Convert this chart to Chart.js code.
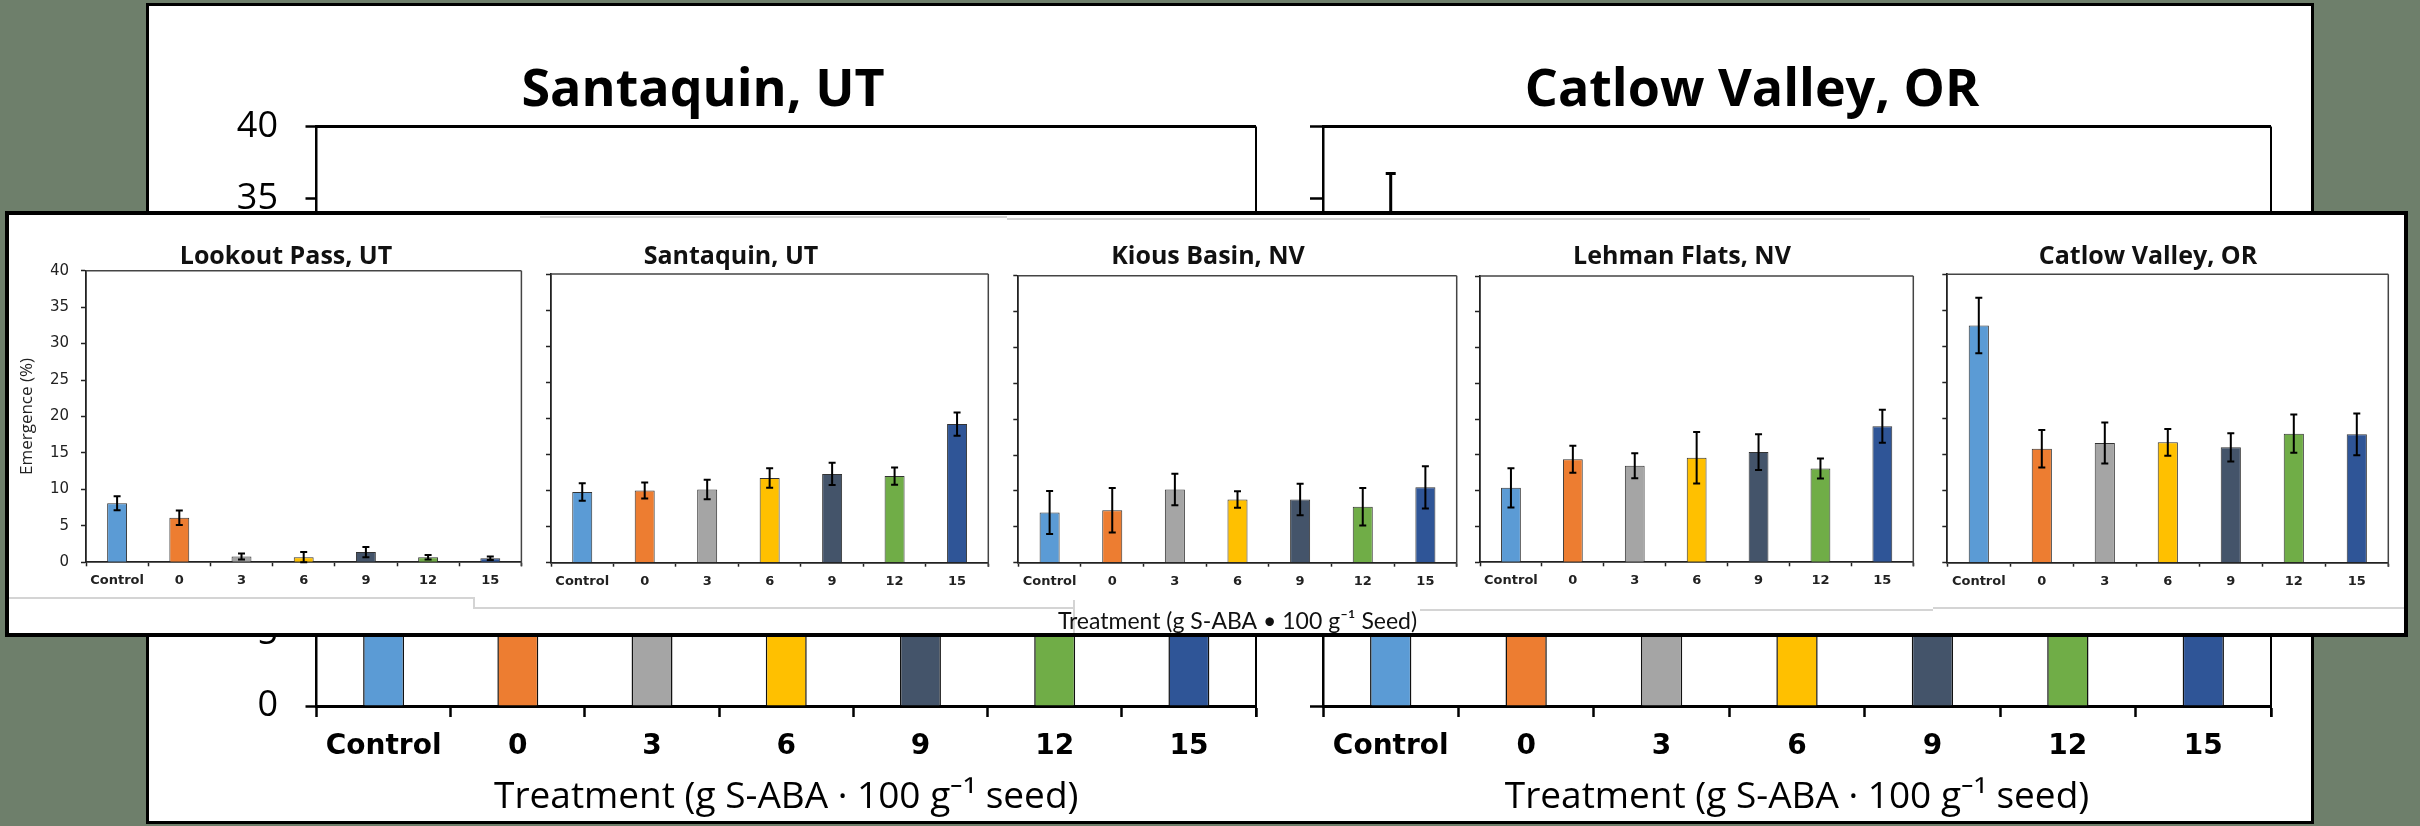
<!DOCTYPE html>
<html>
<head>
<meta charset="utf-8">
<title>Emergence by treatment</title>
<script src="https://cdn.jsdelivr.net/npm/chart.js@4.4.1/dist/chart.umd.min.js"></script>
<style>
  html, body { margin: 0; padding: 0; }
  body { width: 2420px; height: 826px; background: #6e7f6b; position: relative; overflow: hidden; }
  .slide { position: absolute; left: 146px; top: 3px; width: 2168px; height: 821px; background: #fff; border: 3px solid #000; box-sizing: border-box; }
  .inset { position: absolute; left: 5px; top: 211px; width: 2403px; height: 426px; background: #fff; border: 4px solid #000; box-sizing: border-box; z-index: 2; }
  canvas { position: absolute; }
  .big { z-index: 1; }
  .panel { z-index: 4; }
  .seam { position: absolute; background: #d4d4d4; z-index: 3; }
</style>
</head>
<body>
<div class="slide"></div>
<canvas id="bigLeft" class="big"></canvas>
<canvas id="bigRight" class="big"></canvas>
<div class="inset"></div>
<div class="seam" style="left:540px;top:216px;width:467px;height:2px"></div>
<div class="seam" style="left:1007px;top:218px;width:863px;height:2px"></div>
<div class="seam" style="left:9px;top:597px;width:464px;height:2px"></div>
<div class="seam" style="left:473px;top:597px;width:2px;height:11px"></div>
<div class="seam" style="left:473px;top:607px;width:600px;height:2px"></div>
<div class="seam" style="left:1073px;top:600px;width:2px;height:33px"></div>
<div class="seam" style="left:1420px;top:609px;width:513px;height:2px"></div>
<div class="seam" style="left:1933px;top:607px;width:471px;height:2px"></div>
<canvas id="p1" class="panel"></canvas>
<canvas id="p2" class="panel"></canvas>
<canvas id="p3" class="panel"></canvas>
<canvas id="p4" class="panel"></canvas>
<canvas id="p5" class="panel"></canvas>
<script>
// treatments and colours
const treatments = ['Control', '0', '3', '6', '9', '12', '15'];
const treatmentColors = ['#5B9BD5', '#ED7D31', '#A5A5A5', '#FFC000', '#44546A', '#70AD47', '#2F5597'];
const emergenceTicks = [0, 5, 10, 15, 20, 25, 30, 35, 40];

// emergence (%) means and error bars, per site
const lookoutMean = [8.1, 6.1, 0.8, 0.7, 1.4, 0.7, 0.55];
const lookoutErr = [0.95, 1.0, 0.4, 0.7, 0.7, 0.3, 0.25];
const santaquinMean = [9.8, 10.0, 10.15, 11.75, 12.3, 12.0, 19.2];
const santaquinErr = [1.2, 1.1, 1.35, 1.35, 1.55, 1.2, 1.6];
const kiousMean = [7.0, 7.3, 10.2, 8.8, 8.8, 7.8, 10.5];
const kiousErr = [3.0, 3.1, 2.2, 1.15, 2.2, 2.6, 2.95];
const lehmanMean = [10.4, 14.4, 13.5, 14.6, 15.4, 13.1, 19.0];
const lehmanErr = [2.75, 1.9, 1.75, 3.6, 2.5, 1.4, 2.3];
const catlowMean = [32.9, 15.8, 16.6, 16.7, 16.0, 17.9, 17.8];
const catlowErr = [3.85, 2.6, 2.85, 1.85, 1.95, 2.65, 2.9];

const errorBars = {
  id: 'errorBars',
  afterDatasetsDraw(chart, args, opts) {
    const ctx = chart.ctx;
    const y = chart.scales.y;
    const ds = chart.data.datasets[0];
    ctx.save();
    ctx.strokeStyle = '#000';
    ctx.lineWidth = opts.width;
    chart.getDatasetMeta(0).data.forEach((bar, i) => {
      const hi = y.getPixelForValue(ds.data[i] + ds.errors[i]);
      const lo = y.getPixelForValue(ds.data[i] - ds.errors[i]);
      ctx.beginPath();
      ctx.moveTo(bar.x, hi); ctx.lineTo(bar.x, lo);
      ctx.moveTo(bar.x - opts.cap, hi); ctx.lineTo(bar.x + opts.cap, hi);
      ctx.moveTo(bar.x - opts.cap, lo); ctx.lineTo(bar.x + opts.cap, lo);
      ctx.stroke();
    });
    ctx.restore();
  }
};

// top and right edges of the plot box
const frame = {
  id: 'frame',
  afterDraw(chart, args, opts) {
    const ctx = chart.ctx;
    const a = chart.chartArea;
    ctx.save();
    ctx.strokeStyle = opts.color;
    ctx.lineWidth = opts.top;
    ctx.beginPath(); ctx.moveTo(a.left, a.top); ctx.lineTo(a.right, a.top); ctx.stroke();
    ctx.lineWidth = opts.right;
    ctx.beginPath(); ctx.moveTo(a.right, a.top); ctx.lineTo(a.right, a.bottom + opts.extend); ctx.stroke();
    ctx.restore();
  }
};

function place(id, x, y, w, h) {
  const cv = document.getElementById(id);
  cv.width = w; cv.height = h;
  cv.style.left = x + 'px'; cv.style.top = y + 'px';
  return cv;
}

function dataset(means, errs, border, pct) {
  return {
    data: means, errors: errs,
    backgroundColor: treatmentColors,
    borderColor: border.color, borderWidth: border.width,
    barPercentage: pct, categoryPercentage: 1
  };
}

// big slide charts (mostly covered by the inset)
const bigBoxes = [
  { id: 'bigLeft', x: 150, y: 6, w: 1130, h: 814, padR: 24, yW: 166.5, yTick: 11, labels: true, title: 'Santaquin, UT', mean: santaquinMean, err: santaquinErr },
  { id: 'bigRight', x: 1233, y: 6, w: 1057, h: 814, padR: 19, yW: 90, yTick: 13, labels: false, title: 'Catlow Valley, OR', mean: catlowMean, err: catlowErr }
];

bigBoxes.forEach(b => {
  const cv = place(b.id, b.x, b.y, b.w, b.h);
  new Chart(cv, {
    type: 'bar',
    data: { labels: treatments, datasets: [dataset(b.mean, b.err, { color: '#111', width: 1.5 }, 0.305)] },
    options: {
      responsive: false, animation: false, events: [],
      layout: { padding: { left: 0, right: b.padR, top: 0, bottom: 0 } },
      plugins: {
        legend: { display: false },
        tooltip: { enabled: false },
        title: { display: true, text: b.title, color: '#000', font: { family: 'Open Sans', size: 52, weight: 'bold', lineHeight: 1.2 }, padding: { top: 54.3, bottom: 3.8 } },
        errorBars: { width: 3, cap: 5 },
        frame: { color: '#000', top: 3, right: 2, extend: 11 }
      },
      scales: {
        x: {
          grid: { drawOnChartArea: false, tickLength: 11, tickColor: '#000', tickWidth: 2.5 },
          border: { color: '#000', width: 3 },
          ticks: { color: '#000', padding: 12.9, font: { family: 'DejaVu Sans', size: 28, weight: 'bold' } },
          title: { display: true, text: 'Treatment (g S-ABA · 100 g⁻¹ seed)', color: '#000', font: { family: 'Open Sans', size: 37 }, padding: { top: 0, bottom: 0 } },
          afterFit: a => { a.height = 114; }
        },
        y: {
          min: 0, max: 40,
          afterBuildTicks: a => { a.ticks = emergenceTicks.map(v => ({ value: v })); },
          grid: { drawOnChartArea: false, tickLength: b.yTick, tickColor: '#000', tickWidth: 2.5 },
          border: { color: '#000', width: 2.5 },
          ticks: { display: b.labels, color: '#000', padding: 27.5, font: { family: 'Open Sans', size: 36 } },
          afterFit: a => { a.width = b.yW; }
        }
      }
    },
    plugins: [errorBars, frame]
  });
});

// inset: five site panels
const panelBoxes = [
  { id: 'p1', plotLeft: 86, plotRight: 521.4, plotTop: 270.7, plotBottom: 562.3, titleX: 286, canvasLeft: 10, bottom: 600, title: 'Lookout Pass, UT', mean: lookoutMean, err: lookoutErr, first: true },
  { id: 'p2', plotLeft: 551, plotRight: 988.3, plotTop: 274, plotBottom: 562.7, titleX: 731, bottom: 600, title: 'Santaquin, UT', mean: santaquinMean, err: santaquinErr },
  { id: 'p3', plotLeft: 1018.3, plotRight: 1456.7, plotTop: 275.7, plotBottom: 562.7, titleX: 1208, bottom: 636, title: 'Kious Basin, NV', mean: kiousMean, err: kiousErr, axisTitle: true },
  { id: 'p4', plotLeft: 1480, plotRight: 1913.3, plotTop: 276, plotBottom: 562.3, titleX: 1682, bottom: 600, title: 'Lehman Flats, NV', mean: lehmanMean, err: lehmanErr },
  { id: 'p5', plotLeft: 1947.3, plotRight: 2388.3, plotTop: 274.3, plotBottom: 562.7, titleX: 2148, bottom: 600, title: 'Catlow Valley, OR', mean: catlowMean, err: catlowErr }
];
const panelTop = 219;

panelBoxes.forEach(p => {
  const cl = p.canvasLeft !== undefined ? p.canvasLeft : Math.floor(2 * p.titleX - p.plotRight);
  const cr = Math.ceil(p.plotRight) + 3;
  const padR = cr - p.plotRight;
  const padL = 2 * (p.titleX - cl) - (p.plotRight - cl);
  const yW = p.plotLeft - cl - padL;
  const cv = place(p.id, cl, panelTop, cr - cl, p.bottom - panelTop);
  new Chart(cv, {
    type: 'bar',
    data: { labels: treatments, datasets: [dataset(p.mean, p.err, { color: '#333', width: 1 }, 0.32)] },
    options: {
      responsive: false, animation: false, events: [],
      layout: { padding: { left: padL, right: padR, top: 0, bottom: 0 } },
      plugins: {
        legend: { display: false },
        tooltip: { enabled: false },
        title: { display: true, text: p.title, color: '#111', font: { family: 'Open Sans', size: 25, weight: 'bold', lineHeight: 1 }, padding: { top: 25, bottom: p.plotTop - panelTop - 50 } },
        errorBars: { width: 2, cap: 3.5 },
        frame: { color: '#444', top: 1.5, right: 1.5, extend: 4 }
      },
      scales: {
        x: {
          grid: { drawOnChartArea: false, tickLength: 4, tickColor: '#222', tickWidth: 1.5 },
          border: { color: '#222', width: 1.8 },
          ticks: { color: '#222', padding: 6.7, font: { family: 'DejaVu Sans', size: 13, weight: 'bold' } },
          title: { display: !!p.axisTitle, text: 'Treatment (g S-ABA • 100 g⁻¹ Seed)', color: '#111', font: { family: 'Lato', size: 23 }, padding: { top: 0, bottom: 0.5 } },
          afterFit: a => { a.height = p.bottom - p.plotBottom; }
        },
        y: {
          min: 0, max: 40,
          afterBuildTicks: a => { a.ticks = emergenceTicks.map(v => ({ value: v })); },
          grid: { drawOnChartArea: false, tickLength: 5, tickColor: '#222', tickWidth: 1.5 },
          border: { color: '#222', width: 1.8 },
          ticks: { display: !!p.first, color: '#222', padding: 12, font: { family: 'DejaVu Sans', size: 15 } },
          title: { display: !!p.first, text: 'Emergence (%)', color: '#222', font: { family: 'Open Sans', size: 17 }, padding: { top: -33.8, bottom: 0 } },
          afterFit: a => { a.width = yW; }
        }
      }
    },
    plugins: [errorBars, frame]
  });
});
</script>
</body>
</html>
